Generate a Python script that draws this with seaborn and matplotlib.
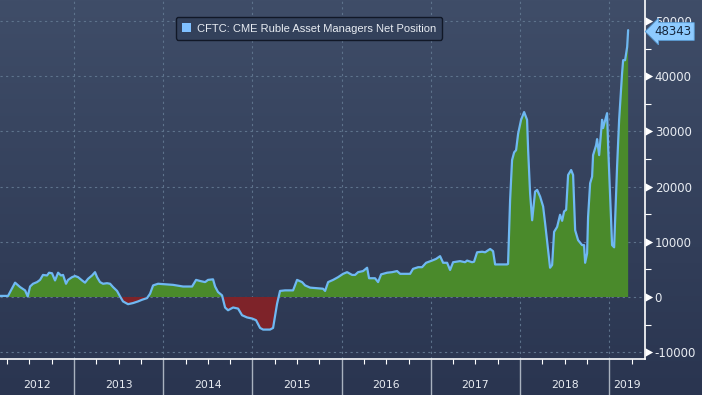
import numpy as np
import pandas as pd
import seaborn as sns
import matplotlib.pyplot as plt
from matplotlib.patches import Patch
from matplotlib.path import Path
from matplotlib.colors import LinearSegmentedColormap

# ---------------------------------------------------------
# Data: decimal year, net position
# ---------------------------------------------------------
t = [
    2012.170, 2012.260, 2012.339, 2012.395, 2012.451, 2012.481, 2012.507, 2012.540,
    2012.585, 2012.619, 2012.652, 2012.697, 2012.720, 2012.753, 2012.787, 2012.821,
    2012.854, 2012.877, 2012.910, 2012.933, 2012.978, 2013.011, 2013.045, 2013.090,
    2013.123, 2013.157, 2013.202, 2013.235, 2013.258, 2013.291, 2013.325, 2013.370,
    2013.404, 2013.437, 2013.482, 2013.516, 2013.549, 2013.605, 2013.661, 2013.717,
    2013.762, 2013.818, 2013.852, 2013.886, 2013.942, 2014.110, 2014.222, 2014.323,
    2014.368, 2014.413, 2014.469, 2014.502, 2014.558, 2014.581, 2014.614, 2014.659,
    2014.693, 2014.726, 2014.783, 2014.839, 2014.883, 2014.939, 2014.996, 2015.040,
    2015.085, 2015.119, 2015.197, 2015.231, 2015.276, 2015.309, 2015.365, 2015.455,
    2015.500, 2015.556, 2015.590, 2015.646, 2015.713, 2015.791, 2015.814, 2015.848,
    2015.904, 2015.960, 2016.016, 2016.061, 2016.117, 2016.150, 2016.184, 2016.240,
    2016.285, 2016.307, 2016.374, 2016.408, 2016.442, 2016.509, 2016.565, 2016.621,
    2016.655, 2016.767, 2016.800, 2016.857, 2016.901, 2016.946, 2017.013, 2017.058,
    2017.103, 2017.137, 2017.182, 2017.215, 2017.249, 2017.327, 2017.383, 2017.406,
    2017.462, 2017.484, 2017.518, 2017.574, 2017.608, 2017.664, 2017.697, 2017.720,
    2017.854, 2017.865, 2017.888, 2017.910, 2017.933, 2017.955, 2017.978, 2018.011,
    2018.045, 2018.078, 2018.090, 2018.112, 2018.135, 2018.168, 2018.191, 2018.224,
    2018.258, 2018.280, 2018.314, 2018.336, 2018.359, 2018.381, 2018.415, 2018.448,
    2018.471, 2018.493, 2018.516, 2018.538, 2018.572, 2018.594, 2018.617, 2018.650,
    2018.695, 2018.717, 2018.729, 2018.751, 2018.762, 2018.785, 2018.807, 2018.818,
    2018.852, 2018.863, 2018.886, 2018.919, 2018.930, 2018.975, 2018.987, 2019.031,
    2019.054, 2019.087, 2019.110, 2019.143, 2019.155, 2019.177, 2019.200, 2019.211,
]
net_position = [
    200, 200, 2600, 1800, 1200, 100, 1900, 2400,
    2700, 3100, 4000, 3900, 4400, 4300, 3000, 4400,
    3900, 4000, 2400, 3100, 3600, 3800, 3600, 3000,
    2600, 3300, 3900, 4500, 3600, 2700, 2400, 2500,
    2400, 1800, 1100, 100, -800, -1300, -1100, -800,
    -500, -200, 600, 2100, 2400, 2200, 1900, 1900,
    3100, 2900, 2700, 3100, 3200, 1900, 900, 300,
    -1900, -2400, -1900, -2100, -3300, -3700, -3900, -4200,
    -5600, -5900, -5900, -5600, -1200, 1100, 1200, 1200,
    3100, 2700, 2100, 1700, 1600, 1500, 1100, 2700,
    3100, 3600, 4200, 4500, 4000, 4000, 4500, 4700,
    5300, 3400, 3400, 2700, 4100, 4400, 4500, 4700,
    4200, 4200, 5100, 5400, 5400, 6200, 6600, 6900,
    7400, 6200, 6200, 4900, 6300, 6500, 6300, 6600,
    6300, 6400, 8100, 8200, 8100, 8700, 8300, 5900,
    5900, 6000, 17600, 24800, 26200, 26600, 29600, 32100,
    33500, 32100, 26600, 18800, 13900, 19100, 19400, 18200,
    16400, 13400, 8500, 5300, 5800, 11800, 12700, 14900,
    13800, 15500, 15800, 22100, 23000, 22100, 12100, 10300,
    9400, 9400, 6200, 7900, 14500, 20600, 21800, 25700,
    27500, 28600, 25700, 32100, 30600, 33300, 27200, 9400,
    9000, 23600, 32100, 40500, 42900, 42900, 45300, 48343,
]
series_name = "CFTC: CME Ruble Asset Managers Net Position"
years = [2012, 2013, 2014, 2015, 2016, 2017, 2018, 2019]
y_ticks = [-10000, 0, 10000, 20000, 30000, 40000, 50000]

df = pd.DataFrame({"t": t, "value": net_position})
x_min, x_max = 2012.17, 2019.40
y_min, y_max = -11230, 53800

# ---------------------------------------------------------
# Figure
# ---------------------------------------------------------
sns.set_style("dark")
plt.rcParams["font.family"] = ["DejaVu Sans"]

fig = plt.figure(figsize=(7.02, 3.95), dpi=100)

# gradient background over the whole figure
bg = fig.add_axes([0, 0, 1, 1], zorder=-10)
cmap = LinearSegmentedColormap.from_list("bg", ["#2a3550", "#3f4d68"])
bg.imshow(np.linspace(0, 1, 256).reshape(-1, 1)[::-1], aspect="auto",
          cmap=cmap, extent=[0, 1, 0, 1])
bg.axis("off")

ax = fig.add_axes([0, 36 / 395, 645 / 702, 359 / 395])
ax.patch.set_alpha(0)

vals = df["value"].to_numpy()
ax.fill_between(df["t"], vals, 0, where=vals >= 0, interpolate=True,
                color="#4a8a2b", lw=0)
ax.fill_between(df["t"], vals, 0, where=vals <= 0, interpolate=True,
                color="#7e2329", lw=0)
sns.lineplot(data=df, x="t", y="value", ax=ax, color="#6fb8f2", lw=1.6)

ax.set_xlim(x_min, x_max)
ax.set_ylim(y_min, y_max)
ax.set_xlabel("")
ax.set_ylabel("")

# grid
ax.set_xticks(years[1:])
ax.set_xticks([y + q for y in years for q in (0.25, 0.5, 0.75)
               if x_min < y + q < x_max], minor=True)
ax.set_xticklabels([])
ax.set_yticks(y_ticks)
ax.set_yticks(np.arange(-5000, 50001, 10000), minor=True)
ax.grid(True, which="major", color="#5e738c", lw=0.8, ls=(0, (2, 3)))

# spines
for s in ("top", "left"):
    ax.spines[s].set_visible(False)
for s in ("right", "bottom"):
    ax.spines[s].set_visible(True)
    ax.spines[s].set_color("white")
    ax.spines[s].set_linewidth(1.2)

# y axis on the right with triangle markers sitting on the spine
ax.yaxis.tick_right()
ax.tick_params(axis="y", which="both", right=True, left=False)
ax.tick_params(axis="y", which="major", colors="white", labelcolor="#e8ecf2",
               labelsize=8.5, pad=1, length=6, width=1)
ax.tick_params(axis="y", which="minor", colors="white", length=4, width=0.8,
               direction="out")
caret = Path([(0, -1), (0, 1), (1.8, 0), (0, -1)],
             [Path.MOVETO, Path.LINETO, Path.LINETO, Path.CLOSEPOLY])
for tick in ax.yaxis.get_major_ticks():
    tick.tick2line.set_marker(caret)
    tick.tick2line.set_markersize(11)
    tick.tick2line.set_markerfacecolor("white")
    tick.tick2line.set_markeredgewidth(0)
ax.set_yticklabels([str(v) for v in y_ticks])

# x axis: long year separators + quarterly ticks
ax.tick_params(axis="x", which="both", bottom=True, top=False)
ax.tick_params(axis="x", which="major", colors="#a9b2bf", length=27, width=1,
               direction="out")
ax.tick_params(axis="x", which="minor", colors="white", length=3.5, width=0.8,
               direction="out")
for y in years:
    lo, hi = max(y, x_min), min(y + 1, x_max)
    ax.annotate(str(y), xy=((lo + hi) / 2, 0), xycoords=("data", "axes fraction"),
                xytext=(0, -19), textcoords="offset points", ha="center",
                va="center", color="#e8ecf2", fontsize=7.8, annotation_clip=False)

# last value tag
ax.annotate(f"{net_position[-1]}", xy=(1, net_position[-1]),
            xycoords=("axes fraction", "data"), xytext=(7, -1),
            textcoords="offset points", ha="left", va="center",
            color="#14243a", fontsize=8.5, annotation_clip=False, zorder=10,
            bbox=dict(boxstyle="larrow,pad=0.2", fc="#8ecbff", ec="#5a9fd8",
                      lw=0.6))

# legend
leg = ax.legend(handles=[Patch(facecolor="#80c0ff", edgecolor="none",
                               label=series_name)],
                loc="upper left", bbox_to_anchor=(176 / 645, 1 - 17 / 359),
                borderaxespad=0, frameon=True, fancybox=True,
                facecolor="#33415b", edgecolor="#111827", framealpha=1,
                handlelength=0.8, handleheight=0.9, handletextpad=0.5,
                borderpad=0.55, prop={"family": ["Liberation Sans"], "size": 8})
for txt in leg.get_texts():
    txt.set_color("#e8ecf2")

fig.savefig("out.png", dpi=100)
